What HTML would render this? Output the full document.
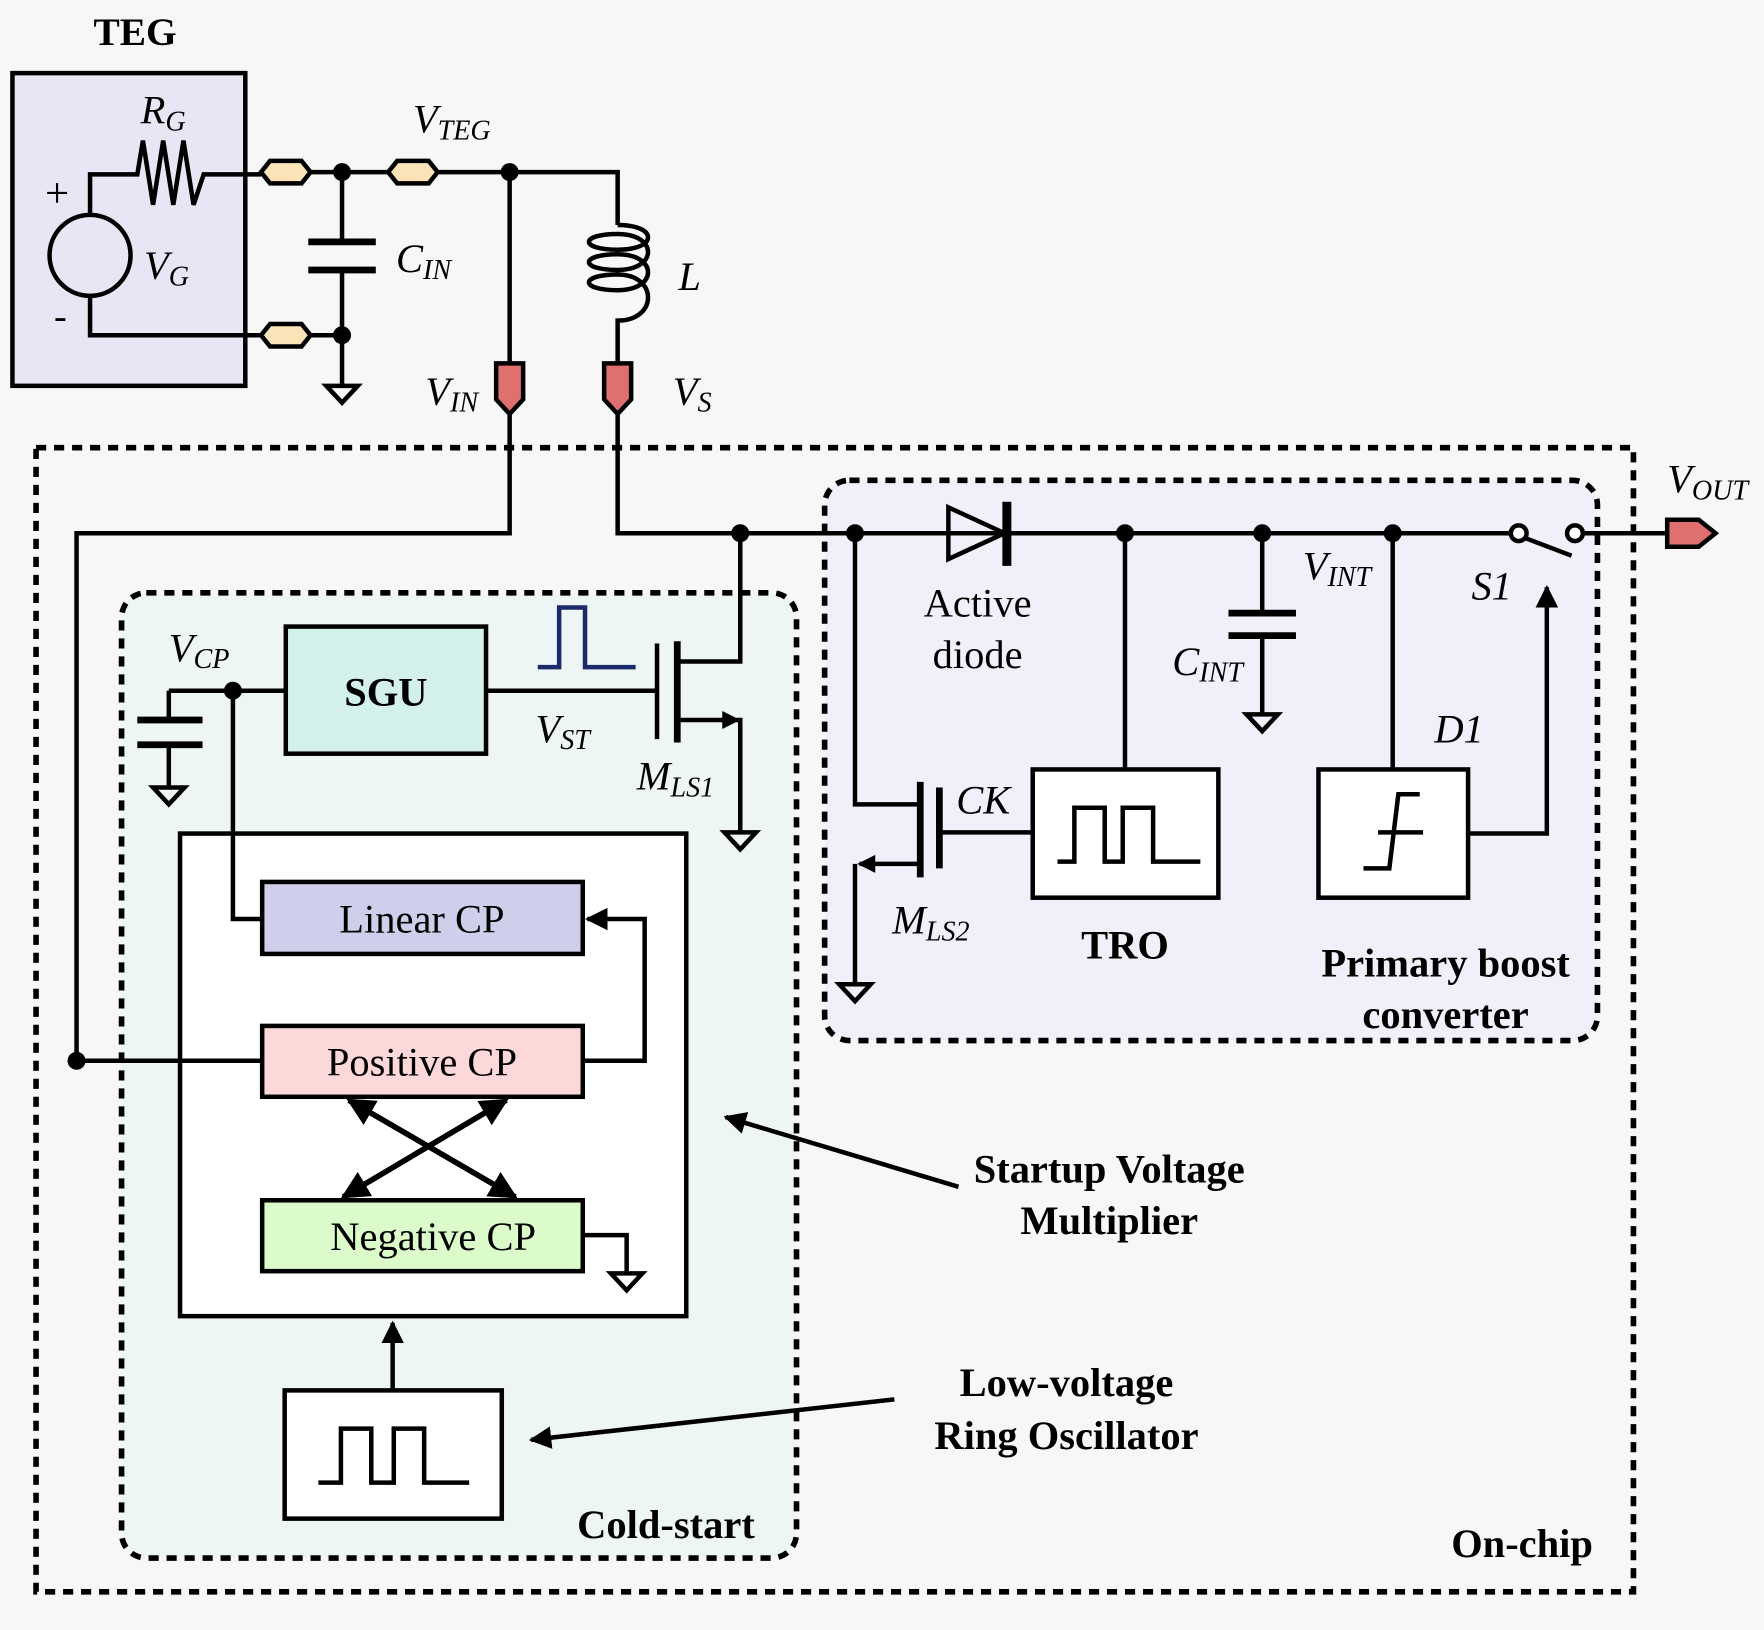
<!DOCTYPE html>
<html><head><style>html,body{margin:0;padding:0;background:#f7f7f7}svg{display:block}
text{font-family:"Liberation Serif","Times New Roman",serif;fill:#000}
.i{font-style:italic}.b{font-weight:bold}</style></head>
<body>
<svg width="1764" height="1630" viewBox="0 0 1568 1449" xmlns="http://www.w3.org/2000/svg">
<defs>
<marker id="ah" viewBox="0 0 10 10" refX="9" refY="5" markerWidth="5" markerHeight="5" orient="auto-start-reverse"><path d="M0,0 L10,5 L0,10 z" fill="#000"/></marker>
</defs>
<rect width="1568" height="1449" fill="#f7f7f7"/>
<g stroke="#000" stroke-width="4" fill="none" stroke-linecap="butt">
<rect x="32" y="398" width="1420" height="1017" stroke-width="5" stroke-dasharray="9 7"/>
<rect x="108" y="527" width="600" height="858" rx="22" fill="#eef5f5" stroke-width="5" stroke-dasharray="9 7"/>
<rect x="733" y="427" width="687" height="498" rx="22" fill="#f0f0fa" stroke-width="5" stroke-dasharray="9 7"/>
<rect x="11" y="65" width="207" height="278" fill="#e6e6f4"/>
<circle cx="80" cy="227" r="36" fill="none"/>
<path d="M80,191 V155 H122 L127,125 L136,182 L145,125 L154,182 L163,125 L172,182 L181,155 H232"/>
<path d="M80,263 V298 H232"/>
<path d="M276,153 H345 M389,153 H549 V200"/>
<path d="M276,298 H304 M304,153 V215 M304,240 V343"/>
<path d="M274,215 H334 M274,240 H334" stroke-width="6"/>
<path d="M290,343 H318 L304,358 Z"/>
<path d="M549,200 C585,200 585,222 549,222 C515,222 515,208 549,208 C585,208 585,240 549,240 C515,240 515,226 549,226 C585,226 585,258 549,258 C515,258 515,244 549,244 C585,244 585,285 549,285 V323"/>
<path d="M453,153 V323 M453,368 V474 H68 V943 H160"/>
<path d="M549,368 V474 H1343 M1407,474 H1480"/>
<path d="M658,474 V588 H602 M602,640 H658 V740 M432,614 H584 M584,572 V657"/>
<path d="M602,570 V660" stroke-width="6"/>
<path d="M644,740 H672 L658,755 Z"/>
<path d="M150,614 H254 M150,614 V640 M150,662 V700 M207,614 V741"/>
<path d="M122,640 H180 M122,662 H180" stroke-width="6"/>
<path d="M136,700 H164 L150,715 Z"/>
<rect x="254" y="557" width="178" height="113" fill="#d3f0ea"/>
<path d="M478,593 H497 V540 H520 V593 H565" stroke="#1a2a6a"/>
<rect x="160" y="741" width="450" height="429" fill="#fff"/>
<path d="M207,741 V817 H233 M160,943 H233"/>
<rect x="233" y="784" width="285" height="64" fill="#cfcfeb"/>
<rect x="233" y="912" width="285" height="63" fill="#fdd8d8"/>
<rect x="233" y="1067" width="285" height="63" fill="#dcfbcb"/>
<path d="M518,943 H573 V817 H522" marker-end="url(#ah)"/>
<path d="M310,978 L458,1064" marker-start="url(#ah)" marker-end="url(#ah)" stroke-width="5"/>
<path d="M450,978 L305,1064" marker-start="url(#ah)" marker-end="url(#ah)" stroke-width="5"/>
<path d="M518,1098 H557 V1132"/>
<path d="M543,1132 H571 L557,1147 Z"/>
<rect x="253" y="1236" width="193" height="114" fill="#fff"/>
<path d="M283,1318 H303 V1270 H330 V1318 H350 V1270 H377 V1318 H417"/>
<path d="M349,1236 V1176" marker-end="url(#ah)"/>
<path d="M795,1244 L472,1280" marker-end="url(#ah)"/>
<path d="M852,1055 L645,993" marker-end="url(#ah)"/>
<path d="M760,474 V715 H818 M818,768 H764 M760,768 V875 M835,740 H918"/>
<path d="M818,695 V780 M835,700 V772" stroke-width="6"/>
<path d="M746,875 H774 L760,890 Z"/>
<path d="M843,451 V497 L893,474 Z" fill="none"/>
<path d="M895,446 V503" stroke-width="8"/>
<path d="M1000,474 V684"/>
<rect x="918" y="684" width="165" height="114" fill="#fff"/>
<path d="M940,766 H955 V718 H982 V766 H998 V718 H1025 V766 H1067"/>
<path d="M1122,474 V545 M1122,565 V635"/>
<path d="M1092,545 H1152 M1092,565 H1152" stroke-width="6"/>
<path d="M1108,635 H1136 L1122,650 Z"/>
<path d="M1238,474 V684"/>
<rect x="1172" y="684" width="133" height="114" fill="#fff"/>
<path d="M1212,772 H1235 L1243,706 H1262 M1225,740 H1265"/>
<path d="M1305,741 H1375 V522" marker-end="url(#ah)"/>
<path d="M1355,478 L1397,494"/>
<circle cx="1350" cy="474" r="7" fill="#fff"/>
<circle cx="1400" cy="474" r="7" fill="#fff"/>
</g>
<g fill="#000">
<circle cx="304" cy="153" r="8"/><circle cx="453" cy="153" r="8"/><circle cx="304" cy="298" r="8"/>
<circle cx="658" cy="474" r="8"/><circle cx="760" cy="474" r="8"/><circle cx="1000" cy="474" r="8"/>
<circle cx="1122" cy="474" r="8"/><circle cx="1238" cy="474" r="8"/><circle cx="207" cy="614" r="8"/><circle cx="68" cy="943" r="8"/>
<path d="M658,640 L642,632 L642,648 Z"/>
<path d="M762,768 L778,760 L778,776 Z"/>
</g>
<g stroke="#000" stroke-width="4" fill="#fbe3b8">
<path d="M232,153 L240,143 H268 L276,153 L268,163 H240 Z"/>
<path d="M345,153 L353,143 H381 L389,153 L381,163 H353 Z"/>
<path d="M232,298 L240,288 H268 L276,298 L268,308 H240 Z"/>
</g>
<g stroke="#000" stroke-width="4" fill="#e07070">
<path d="M441,323 H465 V355 L453,368 L441,355 Z"/>
<path d="M537,323 H561 V355 L549,368 L537,355 Z"/>
<path d="M1482,462 H1510 L1525,474 L1510,486 H1482 Z"/>
</g>
<g font-family="Liberation Serif, serif">
<text x="120" y="40" font-size="35" class="b" text-anchor="middle">TEG</text>
<text x="40" y="184" font-size="38">+</text>
<text x="48" y="292" font-size="34">-</text>
<text x="125" y="110" font-size="36" class="i">R<tspan font-size="25" dy="6">G</tspan></text>
<text x="128" y="248" font-size="36" class="i">V<tspan font-size="25" dy="6">G</tspan></text>
<text x="352" y="242" font-size="36" class="i">C<tspan font-size="25" dy="6">IN</tspan></text>
<text x="367" y="118" font-size="36" class="i">V<tspan font-size="25" dy="6">TEG</tspan></text>
<text x="603" y="258" font-size="36" class="i">L</text>
<text x="378" y="360" font-size="36" class="i">V<tspan font-size="25" dy="6">IN</tspan></text>
<text x="598" y="360" font-size="36" class="i">V<tspan font-size="25" dy="6">S</tspan></text>
<text x="1482" y="438" font-size="36" class="i">V<tspan font-size="25" dy="6">OUT</tspan></text>
<text x="150" y="588" font-size="36" class="i">V<tspan font-size="25" dy="6">CP</tspan></text>
<text x="343" y="627" font-size="36" class="b" text-anchor="middle">SGU</text>
<text x="476" y="660" font-size="36" class="i">V<tspan font-size="25" dy="6">ST</tspan></text>
<text x="566" y="702" font-size="36" class="i">M<tspan font-size="25" dy="6">LS1</tspan></text>
<text x="375" y="829" font-size="36" text-anchor="middle">Linear CP</text>
<text x="375" y="956" font-size="36" text-anchor="middle">Positive CP</text>
<text x="385" y="1111" font-size="36" text-anchor="middle">Negative CP</text>
<text x="986" y="1051" font-size="36" class="b" text-anchor="middle">Startup Voltage</text>
<text x="986" y="1097" font-size="36" class="b" text-anchor="middle">Multiplier</text>
<text x="948" y="1241" font-size="36" class="b" text-anchor="middle">Low-voltage</text>
<text x="948" y="1288" font-size="36" class="b" text-anchor="middle">Ring Oscillator</text>
<text x="592" y="1367" font-size="36" class="b" text-anchor="middle">Cold-start</text>
<text x="1353" y="1384" font-size="36" class="b" text-anchor="middle">On-chip</text>
<text x="869" y="548" font-size="36" text-anchor="middle">Active</text>
<text x="869" y="594" font-size="36" text-anchor="middle">diode</text>
<text x="1158" y="515" font-size="36" class="i">V<tspan font-size="25" dy="6">INT</tspan></text>
<text x="1042" y="600" font-size="36" class="i">C<tspan font-size="25" dy="6">INT</tspan></text>
<text x="1308" y="533" font-size="36" class="i">S1</text>
<text x="1275" y="660" font-size="36" class="i">D1</text>
<text x="850" y="723" font-size="36" class="i">CK</text>
<text x="793" y="830" font-size="36" class="i">M<tspan font-size="25" dy="6">LS2</tspan></text>
<text x="1000" y="852" font-size="36" class="b" text-anchor="middle">TRO</text>
<text x="1285" y="868" font-size="36" class="b" text-anchor="middle">Primary boost</text>
<text x="1285" y="914" font-size="36" class="b" text-anchor="middle">converter</text>
</g>
</svg>
</body></html>
